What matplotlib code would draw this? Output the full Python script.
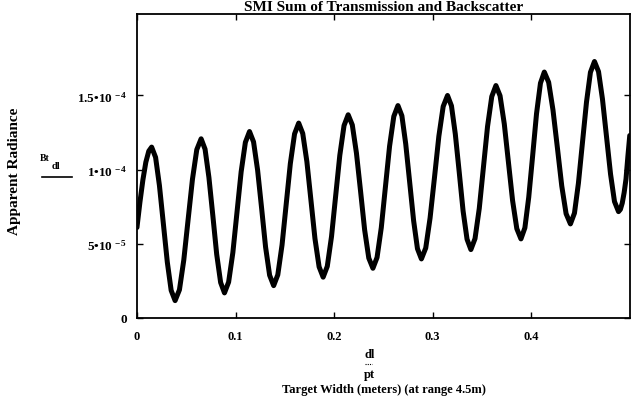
import numpy as np
import matplotlib.pyplot as plt

plt.rcParams['font.family'] = ['Liberation Serif', 'DejaVu Serif']
plt.rcParams['font.weight'] = 'bold'
plt.rcParams['mathtext.fontset'] = 'custom'
plt.rcParams['mathtext.rm'] = 'Liberation Serif:bold'
plt.rcParams['mathtext.it'] = 'Liberation Serif:italic:bold'
plt.rcParams['mathtext.bf'] = 'Liberation Serif:bold'

# target width dl/pt (m)
width_m = [0.0000, 0.0030, 0.0060, 0.0090, 0.0120, 0.0149,
           0.0189, 0.0228, 0.0268, 0.0308, 0.0347, 0.0387,
           0.0431, 0.0475, 0.0519, 0.0563, 0.0607, 0.0651,
           0.0691, 0.0730, 0.0770, 0.0809, 0.0849, 0.0888,
           0.0930, 0.0973, 0.1015, 0.1057, 0.1100, 0.1142,
           0.1183, 0.1224, 0.1265, 0.1305, 0.1346, 0.1387,
           0.1429, 0.1472, 0.1514, 0.1556, 0.1599, 0.1641,
           0.1682, 0.1724, 0.1765, 0.1806, 0.1848, 0.1889,
           0.1931, 0.1974, 0.2016, 0.2058, 0.2101, 0.2143,
           0.2185, 0.2227, 0.2269, 0.2310, 0.2352, 0.2394,
           0.2436, 0.2479, 0.2521, 0.2563, 0.2606, 0.2648,
           0.2688, 0.2727, 0.2767, 0.2807, 0.2846, 0.2886,
           0.2930, 0.2974, 0.3019, 0.3063, 0.3107, 0.3151,
           0.3191, 0.3230, 0.3270, 0.3309, 0.3349, 0.3388,
           0.3430, 0.3473, 0.3515, 0.3557, 0.3600, 0.3642,
           0.3684, 0.3727, 0.3769, 0.3811, 0.3854, 0.3896,
           0.3936, 0.3975, 0.4015, 0.4054, 0.4094, 0.4133,
           0.4177, 0.4221, 0.4266, 0.4310, 0.4354, 0.4398,
           0.4439, 0.4479, 0.4520, 0.4561, 0.4601, 0.4642,
           0.4683, 0.4723, 0.4764, 0.4805, 0.4845, 0.4886,
           0.4905, 0.4924, 0.4943, 0.4962, 0.4981, 0.5000]

# apparent radiance Bt_dl, in units of 1e-5
radiance_e5 = [6.10, 7.80, 9.30, 10.50, 11.25, 11.52,
               10.83, 8.93, 6.35, 3.76, 1.86, 1.17,
               1.90, 3.90, 6.63, 9.35, 11.35, 12.08,
               11.38, 9.48, 6.89, 4.29, 2.39, 1.69,
               2.42, 4.41, 7.13, 9.85, 11.84, 12.57,
               11.87, 9.97, 7.38, 4.78, 2.88, 2.18,
               2.91, 4.92, 7.66, 10.40, 12.41, 13.14,
               12.44, 10.54, 7.95, 5.35, 3.45, 2.75,
               3.48, 5.49, 8.23, 10.96, 12.97, 13.70,
               13.01, 11.11, 8.53, 5.94, 4.04, 3.35,
               4.08, 6.09, 8.84, 11.58, 13.59, 14.32,
               13.63, 11.73, 9.15, 6.56, 4.67, 3.98,
               4.72, 6.74, 9.49, 12.25, 14.26, 15.00,
               14.30, 12.40, 9.81, 7.21, 5.31, 4.61,
               5.35, 7.38, 10.14, 12.91, 14.93, 15.67,
               14.98, 13.08, 10.50, 7.92, 6.02, 5.33,
               6.08, 8.14, 10.96, 13.77, 15.83, 16.58,
               15.89, 14.02, 11.46, 8.90, 7.03, 6.34,
               7.07, 9.08, 11.82, 14.55, 16.56, 17.29,
               16.61, 14.76, 12.23, 9.70, 7.85, 7.17,
               7.32, 7.75, 8.45, 9.37, 10.90, 12.30]

x_ticks = [0, 0.1, 0.2, 0.3, 0.4]
x_tick_labels = ['0', '0.1', '0.2', '0.3', '0.4']
y_ticks = [0, 5e-5, 1e-4, 1.5e-4]
y_tick_labels = ['0', r'$5•10^{\,-5}$', r'$1•10^{\,-4}$', r'$1.5•10^{\,-4}$']

fig = plt.figure(figsize=(6.4, 4.02), dpi=100)
ax = fig.add_axes([0.214, 0.2065, 0.77, 0.7565])

y = np.array(radiance_e5) * 1e-5
ax.plot(width_m, y, color='black', lw=3.6, solid_joinstyle='round', solid_capstyle='round')

ax.set_xlim(0, 0.5)
ax.set_ylim(0, 2.05e-4)
ax.set_xticks(x_ticks)
ax.set_xticklabels(x_tick_labels, fontsize=9, fontweight='bold')
ax.set_yticks(y_ticks)
ax.set_yticklabels(y_tick_labels, fontsize=9.5)
ax.tick_params(axis='x', pad=9)
ax.tick_params(axis='y', pad=7)
ax.tick_params(direction='in', length=4, width=1, top=True, right=True)
for s in ax.spines.values():
    s.set_linewidth(1.3)

ax.set_title('SMI Sum of Transmission and Backscatter', fontsize=11, fontweight='bold', pad=3)

# y-axis expression and label
fig.text(0.023, 0.575, 'Apparent Radiance', rotation=90, fontsize=11, fontweight='bold',
         ha='center', va='center')
fig.text(0.063, 0.606, 'Bt', fontsize=7, fontweight='bold', ha='left', va='center')
fig.text(0.081, 0.587, 'dl', fontsize=7.5, fontweight='bold', ha='left', va='center')
fig.add_artist(plt.Line2D([0.066, 0.112], [0.557, 0.557], color='black', lw=1.2))

# x-axis expression and label
fig.text(0.577, 0.118, 'dl', fontsize=9, fontweight='bold', ha='center', va='center')
fig.add_artist(plt.Line2D([0.570, 0.582], [0.092, 0.092], color='black', lw=0.8, ls=(0, (1, 1))))
fig.text(0.577, 0.066, 'pt', fontsize=9, fontweight='bold', ha='center', va='center')
fig.text(0.600, 0.029, 'Target Width (meters) (at range 4.5m)', fontsize=9, fontweight='bold',
         ha='center', va='center')

fig.savefig('out.png', dpi=100)
